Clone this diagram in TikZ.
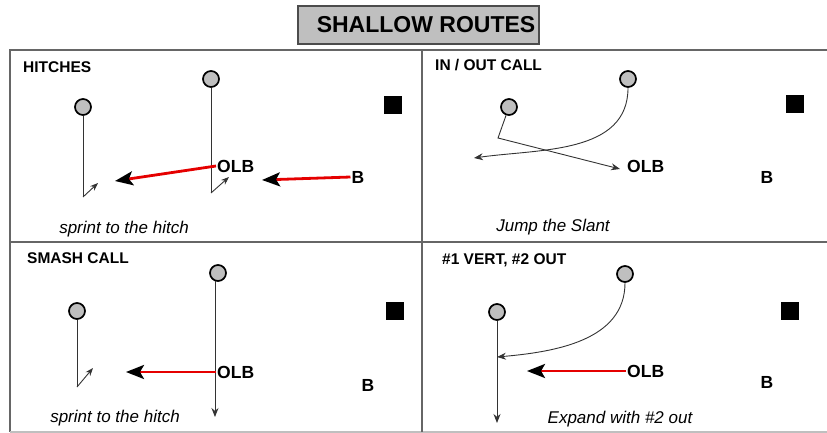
\documentclass[tikz,border=0pt]{standalone}
\usepackage{fontspec}
\setmainfont{Liberation Sans}
\usetikzlibrary{arrows.meta, positioning, calc}

\tikzset{
	player/.style={circle, draw=black, line width=1.7pt, fill=gray!50, minimum size=16pt, inner sep=0pt},
	corner/.style={fill=black, minimum size=18pt, inner sep=0pt},
	route/.style={draw=black!80, line width=0.9pt},
	routearrow/.style={route, -{Stealth[length=9pt, width=7pt]}},
	hitch/.style={route, -{Stealth[length=8pt, width=6pt]}},
	drop/.style={draw=red!90!black, line width=2.8pt, -{Stealth[color=black, length=18pt, width=14pt, inset=4pt]}},
	lbl/.style={font=\bfseries\fontsize{17.5}{18}\selectfont, inner sep=1pt},
	heading/.style={font=\bfseries\fontsize{15.5}{16}\selectfont, anchor=west, inner sep=0pt},
	note/.style={font=\itshape\fontsize{17}{18}\selectfont, inner sep=0pt},
	frame/.style={draw=black!60, line width=1.6pt},
}

\begin{document}
\begin{tikzpicture}[x=1pt, y=-1pt]
	\useasboundingbox (0,0) rectangle (827,433);
	
	% frame and the four panels
	\draw[frame] (827,50) -- (10,50) -- (10,432);
	\draw[frame, draw=black!25] (10,432) -- (827,432);
	\draw[frame] (422,50) -- (422,432);
	\draw[frame] (10,242) -- (827,242);
	
	% title
	\draw[draw=black!70, fill=gray!50, line width=1.4pt] (298,6) rectangle (539,44);
	\node[font=\bfseries\fontsize{23}{24}\selectfont, inner sep=0pt] (title) at (426,25) {SHALLOW ROUTES};
	
	%hitches
	\node[heading] (t1) at (23,67) {HITCHES};
	\node[player] (p1a) at (83,107) {};
	\node[player] (p1b) at (211,79) {};
	\node[corner] (sq1) at (393,105) {};
	\coordinate (h1a) at (83,197);
	\coordinate (h1b) at (211,193);
	\draw[route] (p1a) -- (h1a);
	\draw[hitch] (h1a) -- ++(15,-14);
	\draw[route] (p1b) -- (h1b);
	\draw[hitch] (h1b) -- ++(18,-16);
	\node[lbl, anchor=west] (olb1) at (216,166) {OLB};
	\node[lbl] (b1) at (358,177) {B};
	\coordinate (d1) at (115,181);
	\coordinate (d1b) at (262,180);
	\draw[drop] (olb1.west) -- (d1);
	\draw[drop] (b1.west) -- (d1b);
	\node[note] (n1) at (124,229) {sprint to the hitch};
	
	%in / out
	\node[heading] (t2) at (435,65) {IN / OUT CALL};
	\node[player] (p2a) at (509,107) {};
	\node[player] (p2b) at (628,79) {};
	\node[corner] (sq2) at (795,104) {};
	\coordinate (k2) at (498,138);
	\coordinate (e2a) at (620,169);
	\coordinate (e2b) at (474,158);
	\draw[routearrow] (p2a) -- (k2) -- (e2a);
	\draw[routearrow] (p2b) to[out=-90, in=8] (e2b);
	\node[lbl, anchor=west] (olb2) at (626,166) {OLB};
	\node[lbl] (b2) at (767,177) {B};
	\node[note] (n2) at (553,227) {Jump the Slant};
	
	%smash
	\node[heading] (t3) at (27,258) {SMASH CALL};
	\node[player] (p3a) at (77,311) {};
	\node[player] (p3b) at (218,273) {};
	\node[corner] (sq3) at (395,311) {};
	\coordinate (h3a) at (77,387);
	\coordinate (e3b) at (214,417);
	\draw[route] (p3a) -- (h3a);
	\draw[hitch] (h3a) -- ++(16,-19);
	\draw[routearrow] (p3b.-110) -- (p3b.-110 |- e3b);
	\node[lbl, anchor=west] (olb3) at (216,372) {OLB};
	\node[lbl] (b3) at (368,385) {B};
	\coordinate (d3) at (126,372);
	\draw[drop] (olb3.west) -- (d3);
	\node[note] (n3) at (115,418) {sprint to the hitch};
	
	%vert / out
	\node[heading] (t4) at (442,260) {\#1 VERT, \#2 OUT};
	\node[player] (p4a) at (497,312) {};
	\node[player] (p4b) at (625,274) {};
	\node[corner] (sq4) at (790,311) {};
	\coordinate (e4a) at (497,423);
	\coordinate (e4b) at (497,357);
	\draw[routearrow] (p4a) -- (e4a);
	\draw[routearrow] (p4b) to[out=-90, in=5] (e4b);
	\node[lbl, anchor=west] (olb4) at (626,371) {OLB};
	\node[lbl] (b4) at (767,382) {B};
	\coordinate (d4) at (527,371);
	\draw[drop] (olb4.west) -- (d4);
	\node[note] (n4) at (620,419) {Expand with \#2 out};
\end{tikzpicture}
\end{document}
